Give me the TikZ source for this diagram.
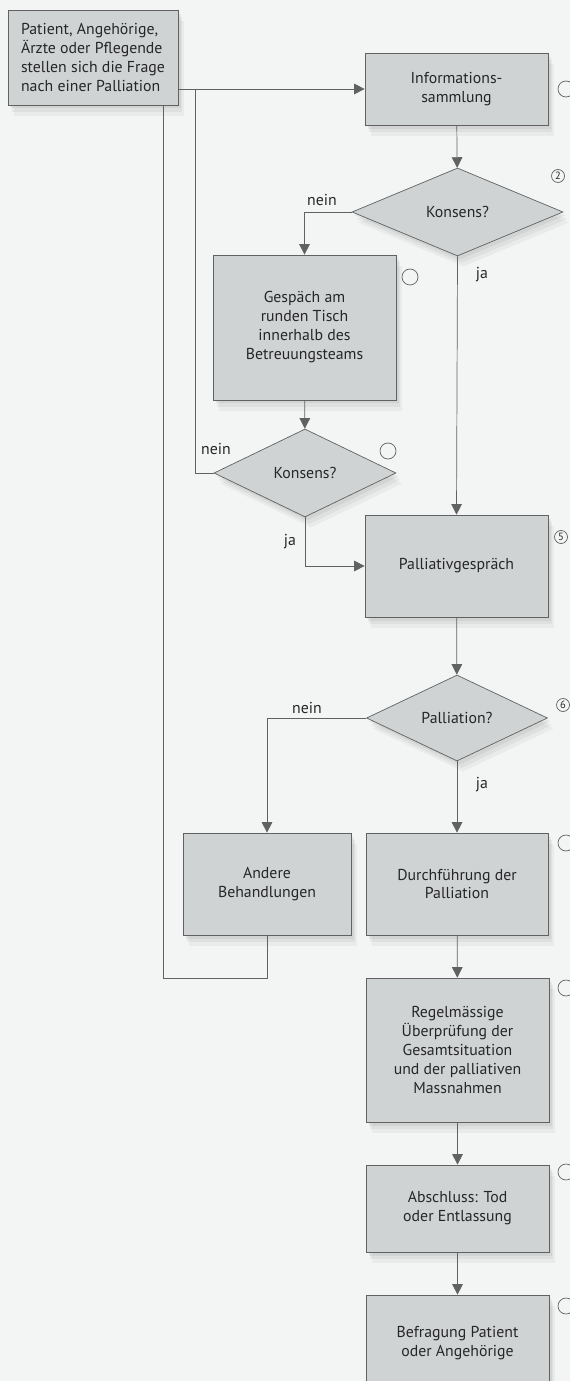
\documentclass[tikz,border=0pt]{standalone}
\usepackage{fontspec}
\setmainfont{PT Sans}
\usepackage{tikz}
\usetikzlibrary{shapes.geometric,arrows.meta,shadows}
\definecolor{boxfill}{RGB}{208,211,212}
\definecolor{paper}{RGB}{243,244,244}
\colorlet{linecol}{black!62}
\colorlet{textcol}{black!85}

\begin{document}
\begin{tikzpicture}[x=0.02cm,y=-0.02cm,
    font=\fontsize{9}{10.8}\selectfont,
    box/.style={draw=linecol, fill=boxfill, align=center, text=textcol, inner sep=2pt,
        drop shadow={shadow xshift=3.5pt, shadow yshift=-6pt, opacity=0.08},
        drop shadow={shadow xshift=2.5pt, shadow yshift=-4pt, opacity=0.1},
        drop shadow={shadow xshift=1.5pt, shadow yshift=-2pt, opacity=0.12}},
    query/.style={box, shape=diamond, inner sep=0pt},
    flow/.style={draw=linecol, arrows={-{Triangle[length=6pt,width=6pt]}}},
    link/.style={draw=linecol},
    note/.style={draw=linecol, circle, inner sep=0pt, minimum size=#1, text=textcol, font=\fontsize{6}{6}\selectfont},
    lbl/.style={text=textcol}
  ]
    \fill[paper] (0,0) rectangle (570,1381);
    \useasboundingbox (0,0) rectangle (570,1381);

    % boxes and questions
    \node[box, align=left, minimum width=3.4cm, minimum height=1.9cm] (start) at (93,57.5)
        {Patient, Angehörige,\\Ärzte oder Pflegende\\stellen sich die Frage\\nach einer Palliation};
    \node[box, minimum width=3.66cm, minimum height=1.44cm] (info) at (456.5,89) {Informations-\\sammlung};
    \node[query, minimum width=4.22cm, minimum height=1.76cm] (kons1) at (457.5,212) {Konsens?};
    \node[box, minimum width=3.66cm, minimum height=2.9cm] (gespraech) at (304.5,327.5)
        {Gespäch am\\runden Tisch\\innerhalb des\\Betreuungsteams};
    \node[query, minimum width=3.64cm, minimum height=1.76cm] (kons2) at (305,473) {Konsens?};
    \node[box, minimum width=3.66cm, minimum height=2.04cm] (pallgespr) at (456.5,566) {Palliativgespräch};
    \node[query, minimum width=3.62cm, minimum height=1.72cm] (pallfrage) at (457,718) {Palliation?};
    \node[box, minimum width=3.36cm, minimum height=2.04cm] (andere) at (267,884) {Andere\\Behandlungen};
    \node[box, minimum width=3.64cm, minimum height=2.04cm] (durchf) at (457,884) {Durchführung der\\Palliation};
    \node[box, minimum width=3.66cm, minimum height=2.88cm] (regel) at (457.5,1050)
        {Regelmässige\\Überprüfung der\\Gesamtsituation\\und der palliativen\\Massnahmen};
    \node[box, minimum width=3.66cm, minimum height=1.74cm] (abschl) at (457.5,1208.5) {Abschluss: Tod\\oder Entlassung};
    \node[box, minimum width=3.66cm, minimum height=1.92cm] (befrag) at (457.5,1343) {Befragung Patient\\oder Angehörige};

    % markers at the right
    \node[note=0.32cm] (m1) at (566,89) {};
    \node[note=0.26cm] (m2) at (558,176) {2};
    \node[note=0.32cm] (m3) at (410,277) {};
    \node[note=0.32cm] (m4) at (388,451) {};
    \node[note=0.26cm] (m5) at (561,537) {5};
    \node[note=0.26cm] (m6) at (563,705) {6};
    \node[note=0.32cm] (m7) at (566,843) {};
    \node[note=0.32cm] (m8) at (566,988) {};
    \node[note=0.32cm] (m9) at (566,1172) {};
    \node[note=0.32cm] (m10) at (566,1306) {};

    % connectors
    \coordinate (j1) at (195,89);
    \coordinate (j2) at (163,978);
    \draw[flow] (start.east |- info.west) -- (info.west);
    \draw[flow] (info) -- (kons1);
    \draw[flow] (kons1.west) -| (gespraech.north);
    \draw[flow] (kons1.south) -- (pallgespr.north);
    \draw[flow] (gespraech) -- (kons2);
    \draw[link] (kons2.west) -| (j1);
    \draw[flow] (kons2.south) |- (pallgespr.west);
    \draw[flow] (pallgespr) -- (pallfrage);
    \draw[flow] (pallfrage.west) -| (andere.north);
    \draw[flow] (pallfrage.south) -- (durchf.north);
    \draw[link] (andere.south) |- (j2) -- (j2 |- start.south);
    \draw[flow] (durchf) -- (regel);
    \draw[flow] (regel) -- (abschl);
    \draw[flow] (abschl) -- (befrag);

    % answers
    \node[lbl] (nein1) at (322,200) {nein};
    \node[lbl] (ja1) at (482,275) {ja};
    \node[lbl] (nein2) at (216,449) {nein};
    \node[lbl] (ja2) at (290,542) {ja};
    \node[lbl] (nein3) at (307,708) {nein};
    \node[lbl] (ja3) at (482,785) {ja};
\end{tikzpicture}
\end{document}
